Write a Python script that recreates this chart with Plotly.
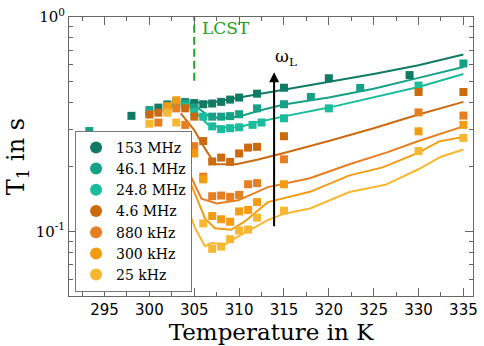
import plotly.graph_objects as go
import numpy as np

labels = ["153 MHz", "46.1 MHz", "24.8 MHz", "4.6 MHz", "880 kHz", "300 kHz", "25 kHz"]
colors = ["#117a65", "#16a085", "#1abc9c", "#cc6a10", "#e67e22", "#f39c12", "#f7b731"]

# measured points (T in K, T1 in s)
T_153 = [298, 301, 302, 303, 304, 305, 306, 307, 308, 309, 310, 312, 315, 320, 329]
y_153 = [0.346, 0.378, 0.391, 0.401, 0.401, 0.397, 0.392, 0.395, 0.402, 0.412, 0.421, 0.439, 0.468, 0.518, 0.536]
T_461 = [293.3, 300, 302, 303, 304, 305, 307, 308, 309, 310, 312, 315, 318, 323.5, 335]
y_461 = [0.294, 0.368, 0.38, 0.39, 0.395, 0.378, 0.343, 0.343, 0.345, 0.352, 0.375, 0.392, 0.424, 0.467, 0.607]
T_248 = [300, 302, 304, 305, 306, 307, 308, 309, 310, 311.5, 312.5, 315, 320, 330]
y_248 = [0.355, 0.37, 0.383, 0.36, 0.343, 0.309, 0.300, 0.303, 0.306, 0.314, 0.322, 0.337, 0.375, 0.479]
T_46 = [300, 301, 304, 305, 306, 307, 308, 309, 310, 311, 312, 315, 330, 335]
y_46 = [0.351, 0.358, 0.375, 0.343, 0.264, 0.212, 0.221, 0.211, 0.231, 0.246, 0.248, 0.278, 0.447, 0.447]
T_880 = [301, 303, 304, 305, 306, 307, 308, 309, 310, 311, 312, 315, 330, 335]
y_880 = [0.322, 0.375, 0.314, 0.250, 0.180, 0.146, 0.147, 0.145, 0.148, 0.166, 0.168, 0.217, 0.359, 0.347]
T_300 = [302, 303, 305, 306, 307, 308, 309, 310, 311, 312, 315, 330, 335]
y_300 = [0.384, 0.409, 0.231, 0.175, 0.118, 0.114, 0.111, 0.124, 0.126, 0.137, 0.166, 0.293, 0.314]
T_25 = [300, 301, 302, 303, 303.8, 306, 307, 308, 309, 310, 311, 312, 315, 330, 335]
y_25 = [0.318, 0.278, 0.358, 0.322, 0.252, 0.109, 0.083, 0.085, 0.092, 0.101, 0.102, 0.116, 0.125, 0.237, 0.273]

# model curves
Tl_153 = [304.5, 307, 310, 315, 320, 325, 330, 335]
yl_153 = [0.399, 0.399, 0.421, 0.458, 0.498, 0.542, 0.596, 0.669]
Tl_461 = [304.5, 305.5, 306.5, 307.5, 309, 310.5, 312.5, 315, 320, 325, 330, 335]
yl_461 = [0.395, 0.3745, 0.348, 0.339, 0.339, 0.348, 0.3685, 0.391, 0.421, 0.463, 0.520, 0.585]
Tl_248 = [304.5, 305.5, 306.5, 308, 310, 312, 315, 320, 325, 330, 335]
yl_248 = [0.382, 0.348, 0.316, 0.305, 0.306, 0.323, 0.344, 0.378, 0.421, 0.472, 0.542]
Tl_46 = [303.5, 305, 306, 307.3, 309.7, 312, 315, 320, 325, 330, 335]
yl_46 = [0.355, 0.297, 0.251, 0.206, 0.206, 0.216, 0.232, 0.264, 0.303, 0.351, 0.402]
Tl_880 = [303.6, 304.5, 305.8, 307.5, 309.9, 313.2, 317.9, 322.3, 326.4, 330, 335]
yl_880 = [0.259, 0.185, 0.142, 0.135, 0.1397, 0.161, 0.177, 0.2057, 0.233, 0.264, 0.309]
Tl_300 = [303.5, 304.7, 306.2, 307.3, 309.1, 310.6, 313.2, 317.9, 322.3, 326, 330, 332.3, 335]
yl_300 = [0.233, 0.164, 0.115, 0.1035, 0.1018, 0.111, 0.137, 0.153, 0.1826, 0.199, 0.233, 0.263, 0.2756]
Tl_25 = [303.4, 304.2, 305.1, 306.2, 306.9, 308.4, 309.9, 313.2, 315, 317.9, 322.3, 326.3, 330, 332.5, 335]
yl_25 = [0.1756, 0.130, 0.1035, 0.0853, 0.0883, 0.0869, 0.0948, 0.113, 0.121, 0.128, 0.1526, 0.165, 0.195, 0.223, 0.241]

points = [(T_153, y_153), (T_461, y_461), (T_248, y_248), (T_46, y_46),
          (T_880, y_880), (T_300, y_300), (T_25, y_25)]
curves = [(Tl_153, yl_153), (Tl_461, yl_461), (Tl_248, yl_248), (Tl_46, yl_46),
          (Tl_880, yl_880), (Tl_300, yl_300), (Tl_25, yl_25)]

# LCST marker and arrow
lcst_T = 305
lcst_range = [0.505, 1.0]
arrow_T = 313.9
arrow_range = [0.104, 0.553]

fig = go.Figure()
for (tx, ty), c in zip(curves, colors):
    fig.add_trace(go.Scatter(x=tx, y=ty, mode="lines", line=dict(color=c, width=2),
                             showlegend=False, hoverinfo="skip"))
for (px, py), c in zip(points, colors):
    fig.add_trace(go.Scatter(x=px, y=py, mode="markers",
                             marker=dict(symbol="square", size=8, color=c),
                             showlegend=False))
for lab, c in zip(labels, colors):
    fig.add_trace(go.Scatter(x=[None], y=[None], mode="markers", name=lab,
                             marker=dict(symbol="circle", size=6, color=c)))

fig.add_trace(go.Scatter(x=[lcst_T, lcst_T], y=lcst_range, mode="lines",
                         line=dict(color="#22a022", width=2, dash="8px,4px"),
                         showlegend=False, hoverinfo="skip"))

fig.add_annotation(x=arrow_T, y=np.log10(arrow_range[1]), ax=arrow_T, ay=np.log10(arrow_range[0]),
                   xref="x", yref="y", axref="x", ayref="y", text="", showarrow=True,
                   arrowhead=2, arrowsize=1, arrowwidth=2, arrowcolor="black")
fig.add_annotation(x=arrow_T - 0.1, y=np.log10(0.645), xref="x", yref="y", text="ω<sub>L</sub>",
                   showarrow=False, xanchor="left", yanchor="middle",
                   font=dict(family="DejaVu Serif", size=17, color="black"))
fig.add_annotation(x=lcst_T + 0.6, y=np.log10(0.885), xref="x", yref="y", text="LCST",
                   showarrow=False, xanchor="left", yanchor="middle",
                   font=dict(family="DejaVu Serif", size=17, color="#22a022"))

axis_common = dict(showline=True, linecolor="#666", linewidth=1, mirror="ticks",
                   ticks="inside", tickcolor="#666", showgrid=False, zeroline=False)
fig.update_xaxes(range=[291.04, 336.07], tickvals=[295, 300, 305, 310, 315, 320, 325, 330, 335],
                 ticklen=8, tickfont=dict(family="DejaVu Sans", size=15, color="black"),
                 minor=dict(tickvals=[292.5, 297.5, 302.5, 307.5, 312.5, 317.5, 322.5, 327.5, 332.5],
                            ticks="inside", ticklen=4, tickcolor="#666"),
                 title=dict(text="Temperature in K", standoff=4,
                            font=dict(family="DejaVu Serif", size=23, color="black")),
                 **axis_common)
fig.update_yaxes(type="log", range=[np.log10(0.05), 0], tickvals=[0.1, 1],
                 ticktext=["10<sup>-1</sup>", "10<sup>0</sup>"], ticklen=8,
                 tickfont=dict(family="DejaVu Serif", size=15, color="black"),
                 minor=dict(tickvals=[0.06, 0.07, 0.08, 0.09, 0.2, 0.3, 0.4, 0.5, 0.6, 0.7, 0.8, 0.9],
                            ticks="inside", ticklen=4, tickcolor="#666"),
                 title=dict(text="T<sub>1</sub> in s", standoff=4,
                            font=dict(family="DejaVu Serif", size=24, color="black")),
                 **axis_common)

fig.update_layout(width=484, height=346, margin=dict(l=69, r=6, t=12, b=50),
                  plot_bgcolor="white", paper_bgcolor="white",
                  legend=dict(x=0.015, y=0.015, xanchor="left", yanchor="bottom",
                              bgcolor="white", bordercolor="#777", borderwidth=1,
                              font=dict(family="DejaVu Serif", size=14, color="black"),
                              itemwidth=30, tracegroupgap=0, itemsizing="constant"))
fig.write_html("out.html", config={"displayModeBar": False},
               post_script="document.body.style.margin='0';document.body.style.overflow='hidden';")
